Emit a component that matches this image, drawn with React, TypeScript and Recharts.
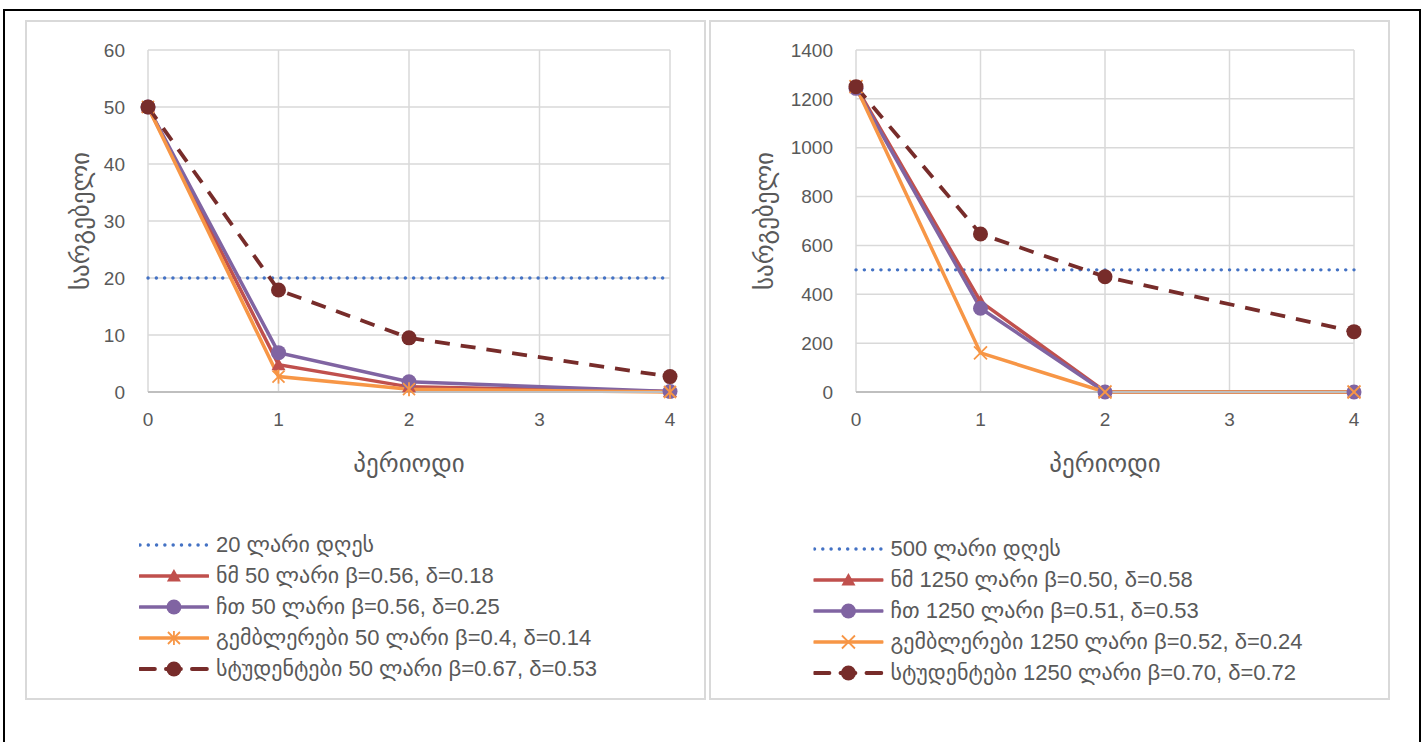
import React from "react";
import { LineChart, Line, XAxis, YAxis, CartesianGrid } from "recharts";

// x positions (period 3 has no observation)
const periods = [0, 1, 2, 4];
const periodTicks = [0, 1, 2, 3, 4];

// left panel: 50 lari
const leftThreshold = [20, 20, 20, 20];
const leftNm = [50, 4.8, 0.9, 0.1];
const leftCht = [50, 6.9, 1.8, 0.1];
const leftGamblers = [50, 2.7, 0.5, 0];
const leftStudents = [50, 17.9, 9.5, 2.7];
const leftTicks = [0, 10, 20, 30, 40, 50, 60];
const leftNames = [
    "20 ლარი დღეს",
    "ნმ 50 ლარი β=0.56, δ=0.18",
    "ჩთ 50 ლარი β=0.56, δ=0.25",
    "გემბლერები 50 ლარი β=0.4, δ=0.14",
    "სტუდენტები 50 ლარი β=0.67, δ=0.53",
];

// right panel: 1250 lari
const rightThreshold = [500, 500, 500, 500];
const rightNm = [1250, 370, 2, 0];
const rightCht = [1243, 343, 0, 0];
const rightGamblers = [1250, 160, 0, 0];
const rightStudents = [1250, 647, 472, 247];
const rightTicks = [0, 200, 400, 600, 800, 1000, 1200, 1400];
const rightNames = [
    "500 ლარი დღეს",
    "ნმ 1250 ლარი β=0.50, δ=0.58",
    "ჩთ 1250 ლარი β=0.51, δ=0.53",
    "გემბლერები 1250 ლარი β=0.52, δ=0.24",
    "სტუდენტები 1250 ლარი β=0.70, δ=0.72",
];

const yTitle = "სარგებელი";
const xTitle = "პერიოდი";

const COLORS = {
    threshold: "#4472C4",
    nm: "#C0504D",
    cht: "#8064A2",
    gamblers: "#F79646",
    students: "#772C2A",
};

const FONT = "'Liberation Sans', 'DejaVu Sans', sans-serif";
const TEXT = "#595959";

type MarkerKind = "none" | "triangle" | "circle" | "star" | "x";

function Marker({ kind, cx, cy, color }: { kind: MarkerKind; cx: number; cy: number; color: string }) {
    if (kind === "triangle") {
        return <path d={`M${cx},${cy - 7} L${cx + 7},${cy + 5.5} L${cx - 7},${cy + 5.5} Z`} fill={color} />;
    }
    if (kind === "circle") {
        return <circle cx={cx} cy={cy} r={7.5} fill={color} />;
    }
    if (kind === "star") {
        return (
            <g stroke={color} strokeWidth={1.8}>
                <line x1={cx} y1={cy - 7} x2={cx} y2={cy + 7} />
                <line x1={cx - 6} y1={cy - 6} x2={cx + 6} y2={cy + 6} />
                <line x1={cx - 6} y1={cy + 6} x2={cx + 6} y2={cy - 6} />
            </g>
        );
    }
    if (kind === "x") {
        return (
            <g stroke={color} strokeWidth={1.8}>
                <line x1={cx - 6.5} y1={cy - 6.5} x2={cx + 6.5} y2={cy + 6.5} />
                <line x1={cx - 6.5} y1={cy + 6.5} x2={cx + 6.5} y2={cy - 6.5} />
            </g>
        );
    }
    return null;
}

type SeriesDef = {
    key: string;
    name: string;
    values: number[];
    color: string;
    marker: MarkerKind;
    dash?: string;
    cap?: "round" | "butt";
    width: number;
};

function buildSeries(names: string[], vals: number[][], gamblerMarker: MarkerKind): SeriesDef[] {
    return [
        { key: "threshold", name: names[0], values: vals[0], color: COLORS.threshold, marker: "none", dash: "0.1 8.2", cap: "round", width: 3.4 },
        { key: "nm", name: names[1], values: vals[1], color: COLORS.nm, marker: "triangle", width: 3.5 },
        { key: "cht", name: names[2], values: vals[2], color: COLORS.cht, marker: "circle", width: 3.5 },
        { key: "gamblers", name: names[3], values: vals[3], color: COLORS.gamblers, marker: gamblerMarker, width: 3.5 },
        { key: "students", name: names[4], values: vals[4], color: COLORS.students, marker: "circle", dash: "15 11", width: 3.8 },
    ];
}

const YLabel = (props: any) => {
    const { viewBox } = props;
    const cx = viewBox.x + 55;
    const cy = viewBox.y + viewBox.height / 2;
    return (
        <text x={cx} y={cy} transform={`rotate(-90 ${cx} ${cy})`} textAnchor="middle" dominantBaseline="central"
            fill={TEXT} fontSize={25} fontFamily={FONT}>
            {yTitle}
        </text>
    );
};

function LegendIcon({ s }: { s: SeriesDef }) {
    return (
        <svg width={70} height={20} style={{ display: "block", flexShrink: 0 }}>
            <line x1={1} y1={10} x2={69} y2={10} stroke={s.color} strokeWidth={s.width}
                strokeDasharray={s.dash} strokeLinecap={s.cap ?? "round"} />
            <Marker kind={s.marker} cx={35} cy={10} color={s.color} />
        </svg>
    );
}

function Panel({ left, series, ticks, max, axisWidth, legendTop, legendShift }: {
    left: number; series: SeriesDef[]; ticks: number[]; max: number; axisWidth: number; legendTop: number; legendShift: number;
}) {
    const data = periods.map((p, i) => {
        const row: Record<string, number> = { period: p };
        series.forEach((s) => { row[s.key] = s.values[i]; });
        return row;
    });

    return (
        <>
            <div style={{ position: "absolute", left, top: 20, width: 681, height: 680, border: "2px solid #D9D9D9", boxSizing: "border-box", background: "#fff" }} />
            <div style={{ position: "absolute", left, top: 20 }}>
                <LineChart width={680} height={480} data={data} margin={{ top: 30, right: 35, bottom: 0, left: 0 }}>
                    <CartesianGrid stroke="#D9D9D9" strokeWidth={1.5} />
                    <XAxis dataKey="period" type="number" domain={[0, 4]} ticks={periodTicks} height={108}
                        axisLine={{ stroke: "#BFBFBF", strokeWidth: 2 }} tickLine={false} tickSize={6} tickMargin={15}
                        tick={{ fill: TEXT, fontSize: 19, fontFamily: FONT }}
                        label={{ value: xTitle, position: "insideBottom", offset: 28, fill: TEXT, fontSize: 25, fontFamily: FONT }} />
                    <YAxis type="number" domain={[0, max]} ticks={ticks} width={axisWidth} interval={0}
                        axisLine={false} tickLine={false} tickSize={6} tickMargin={17}
                        tick={{ fill: TEXT, fontSize: 19, fontFamily: FONT }}
                        label={<YLabel />} />
                    {series.map((s) => (
                        <Line key={s.key} dataKey={s.key} type="linear" stroke={s.color} strokeWidth={s.width}
                            strokeDasharray={s.dash} strokeLinecap={s.cap ?? "butt"} isAnimationActive={false}
                            dot={s.marker === "none" ? false : (p: any) => <Marker key={`${s.key}-${p.index}`} kind={s.marker} cx={p.cx} cy={p.cy} color={s.color} />}
                            activeDot={false} />
                    ))}
                </LineChart>
            </div>
            <div style={{ position: "absolute", left: left + 340 + legendShift, top: legendTop, transform: "translateX(-50%)", fontFamily: FONT, fontSize: 22, color: TEXT, whiteSpace: "nowrap" }}>
                {series.map((s) => (
                    <div key={s.key} style={{ display: "flex", alignItems: "center", height: 31, gap: 7 }}>
                        <LegendIcon s={s} />
                        <span>{s.name}</span>
                    </div>
                ))}
            </div>
        </>
    );
}

export default function App() {
    const leftSeries = buildSeries(leftNames, [leftThreshold, leftNm, leftCht, leftGamblers, leftStudents], "star");
    const rightSeries = buildSeries(rightNames, [rightThreshold, rightNm, rightCht, rightGamblers, rightStudents], "x");

    return (
        <div style={{ position: "absolute", left: 0, top: 0, width: 1425, height: 742, overflow: "hidden", background: "#fff" }}>
            <div style={{ position: "absolute", left: 3, top: 9, width: 1418, height: 740, borderTop: "2px solid #000", borderLeft: "2px solid #000", borderRight: "2px solid #000", boxSizing: "border-box" }} />
            <Panel left={25} series={leftSeries} ticks={leftTicks} max={60} axisWidth={123} legendTop={529} legendShift={3} />
            <Panel left={709} series={rightSeries} ticks={rightTicks} max={1400} axisWidth={147} legendTop={533} legendShift={9} />
        </div>
    );
}
